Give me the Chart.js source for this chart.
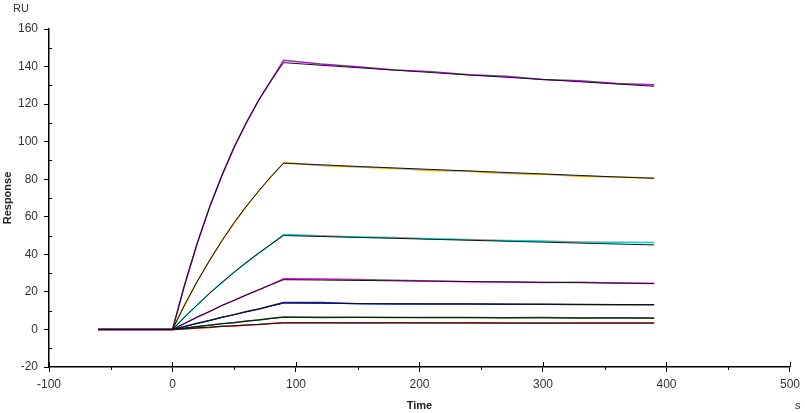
<!DOCTYPE html>
<html>
<head>
<meta charset="utf-8">
<script src="https://cdn.jsdelivr.net/npm/chart.js@4/dist/chart.umd.min.js"></script>
<style>
  body { margin: 0; background: #fff; }
  canvas { display: block; }
</style>
</head>
<body>
<canvas id="chart" width="805" height="413"></canvas>
<script>
// time points (s)
var time = [-60, 0, 10, 20, 30, 40, 50, 60, 70, 80, 90, 120, 150, 180, 210, 240, 270, 300, 330, 360, 390];

// measured responses (RU), one per concentration
var data1 = [0, 0, 24.1, 45.8, 65.1, 81.9, 97.2, 110.3, 122.4, 132.7, 143.3, 141.3, 139.9, 138.2, 137.3, 135.7, 134.8, 133.1, 132.4, 131.0, 130.3];
var data2 = [0, 0, 13.2, 25.6, 36.7, 47.3, 56.8, 65.8, 73.8, 81.6, 88.9, 87.3, 86.5, 85.7, 84.6, 84.2, 83.1, 82.6, 81.6, 81.2, 80.6];
var data3 = [0, 0, 6.8, 13.0, 19.3, 24.9, 30.6, 35.7, 40.8, 45.4, 50.6, 49.9, 49.2, 48.9, 48.3, 47.9, 47.4, 47.1, 46.6, 46.4, 46.3];
var data4 = [0, 0, 3.2, 6.6, 9.5, 12.8, 15.5, 18.5, 21.1, 24.0, 27.0, 26.9, 26.6, 26.2, 25.8, 25.4, 25.2, 25.0, 25.1, 24.8, 24.5];
var data5 = [0, 0, 1.6, 3.3, 4.8, 6.5, 7.9, 9.5, 10.9, 12.6, 14.3, 14.3, 13.7, 13.6, 13.5, 13.5, 13.4, 13.4, 13.3, 13.2, 13.1];
var data6 = [0, 0, 0.7, 1.6, 2.2, 3.1, 3.6, 4.5, 5.0, 5.9, 6.6, 6.4, 6.5, 6.3, 6.4, 6.3, 6.2, 6.3, 6.1, 6.2, 6.1];
var data7 = [0, 0, 0.3, 0.8, 1.1, 1.7, 1.9, 2.4, 2.6, 3.2, 3.5, 3.6, 3.4, 3.6, 3.4, 3.5, 3.4, 3.3, 3.4, 3.4, 3.4];

// fitted curves (black)
var fit1 = [0, 0, 24.3, 45.9, 65.0, 82.0, 97.1, 110.4, 122.3, 132.8, 142.1, 140.7, 139.4, 138.1, 136.8, 135.5, 134.3, 133.1, 131.9, 130.7, 129.5];
var fit2 = [0, 0, 13.3, 25.5, 36.8, 47.2, 56.9, 65.7, 73.9, 81.5, 88.5, 87.7, 86.8, 86.0, 85.2, 84.4, 83.6, 82.8, 82.0, 81.2, 80.5];
var fit3 = [0, 0, 6.7, 13.1, 19.2, 25.0, 30.5, 35.8, 40.7, 45.5, 50.0, 49.5, 49.0, 48.5, 48.0, 47.5, 47.0, 46.5, 46.0, 45.5, 45.0];
var fit4 = [0, 0, 3.3, 6.5, 9.6, 12.7, 15.6, 18.4, 21.2, 23.9, 26.5, 26.3, 26.1, 25.9, 25.7, 25.5, 25.3, 25.1, 24.9, 24.7, 24.5];
var fit5 = [0, 0, 1.6, 3.2, 4.8, 6.4, 7.9, 9.4, 10.9, 12.5, 14.0, 13.9, 13.8, 13.7, 13.6, 13.6, 13.5, 13.4, 13.3, 13.3, 13.2];
var fit6 = [0, 0, 0.8, 1.5, 2.3, 3.0, 3.7, 4.4, 5.1, 5.8, 6.5, 6.5, 6.4, 6.4, 6.3, 6.3, 6.2, 6.2, 6.1, 6.1, 6.0];
var fit7 = [0, 0, 0.4, 0.8, 1.2, 1.6, 2.0, 2.3, 2.7, 3.1, 3.5, 3.5, 3.5, 3.5, 3.5, 3.4, 3.4, 3.4, 3.4, 3.4, 3.4];

var colors = ['#a020c0', '#e0a828', '#20c8c8', '#d020d0', '#1020a0', '#1e6e1e', '#d02020'];

// axis ticks
var xTicks = [-100, 0, 100, 200, 300, 400, 500];
var yTicks = [-20, 0, 20, 40, 60, 80, 100, 120, 140, 160];

function pts(vals) {
    var out = [];
    for (var i = 0; i < time.length; i++) {
        out.push({x: time[i], y: vals[i]});
    }
    return out;
}

var allData = [data1, data2, data3, data4, data5, data6, data7];
var allFits = [fit1, fit2, fit3, fit4, fit5, fit6, fit7];
var datasets = [];
for (var i = 0; i < allData.length; i++) {
    datasets.push({
        data: pts(allData[i]),
        borderColor: colors[i],
        borderWidth: 1.5,
        pointRadius: 0,
        order: 2
    });
}
for (var j = 0; j < allFits.length; j++) {
    datasets.push({
        data: pts(allFits[j]),
        borderColor: '#111',
        borderWidth: 1,
        pointRadius: 0,
        order: 1
    });
}

// minor ticks, crossing major x ticks, and the unit labels
var axisExtras = {
    id: 'axisExtras',
    afterDraw: function (chart) {
        var ctx = chart.ctx;
        var xs = chart.scales.x, ys = chart.scales.y;
        var ax = ys.right, ay = xs.top;
        ctx.save();
        ctx.strokeStyle = '#000';
        ctx.lineWidth = 1;
        ctx.beginPath();
        for (var v = -10; v < 160; v += 20) {
            var py = Math.round(ys.getPixelForValue(v)) + 0.5;
            ctx.moveTo(ax, py); ctx.lineTo(ax + 3, py);
        }
        for (var k = 0; k < xTicks.length; k++) {
            var px = Math.round(xs.getPixelForValue(xTicks[k])) + 0.5;
            ctx.moveTo(px, ay); ctx.lineTo(px, ay - 5);
            if (k < xTicks.length - 1) {
                var mx = Math.round(xs.getPixelForValue(xTicks[k] + 50)) + 0.5;
                ctx.moveTo(mx, ay); ctx.lineTo(mx, ay + 3);
            }
        }
        ctx.stroke();
        ctx.fillStyle = '#333';
        ctx.font = '11px "Liberation Sans", Arial, sans-serif';
        ctx.textBaseline = 'middle';
        ctx.textAlign = 'left';
        ctx.fillText('RU', 13, 9);
        ctx.fillText('s', 795, 406);
        ctx.restore();
    }
};

var tickFont = {family: '"Liberation Sans", Arial, sans-serif', size: 12};
var titleFont = {family: '"Liberation Sans", Arial, sans-serif', size: 11, weight: 'bold'};

new Chart(document.getElementById('chart'), {
    type: 'line',
    data: {datasets: datasets},
    options: {
        responsive: false,
        animation: false,
        layout: {padding: {top: 29, right: 14, left: 0, bottom: 0}},
        plugins: {legend: {display: false}, tooltip: {enabled: false}},
        elements: {line: {tension: 0}},
        scales: {
            x: {
                type: 'linear',
                min: -100, max: 500,
                afterBuildTicks: function (s) { s.ticks = xTicks.map(function (v) { return {value: v}; }); },
                afterFit: function (s) { s.height = 46; },
                ticks: {font: tickFont, color: '#333', padding: 5, maxRotation: 0},
                grid: {drawOnChartArea: false, color: '#000', tickLength: 5},
                border: {color: '#000', width: 1.5},
                title: {display: true, text: 'Time', font: titleFont, color: '#222', padding: 0}
            },
            y: {
                min: -20, max: 160,
                afterBuildTicks: function (s) { s.ticks = yTicks.map(function (v) { return {value: v}; }); },
                afterFit: function (s) { s.width = 49; },
                ticks: {font: tickFont, color: '#333', padding: 6},
                grid: {drawOnChartArea: false, color: '#000', tickLength: 5},
                border: {color: '#000', width: 1.5},
                title: {display: true, text: 'Response', font: titleFont, color: '#222', padding: {top: 1, bottom: 0}}
            }
        }
    },
    plugins: [axisExtras]
});
</script>
</body>
</html>
